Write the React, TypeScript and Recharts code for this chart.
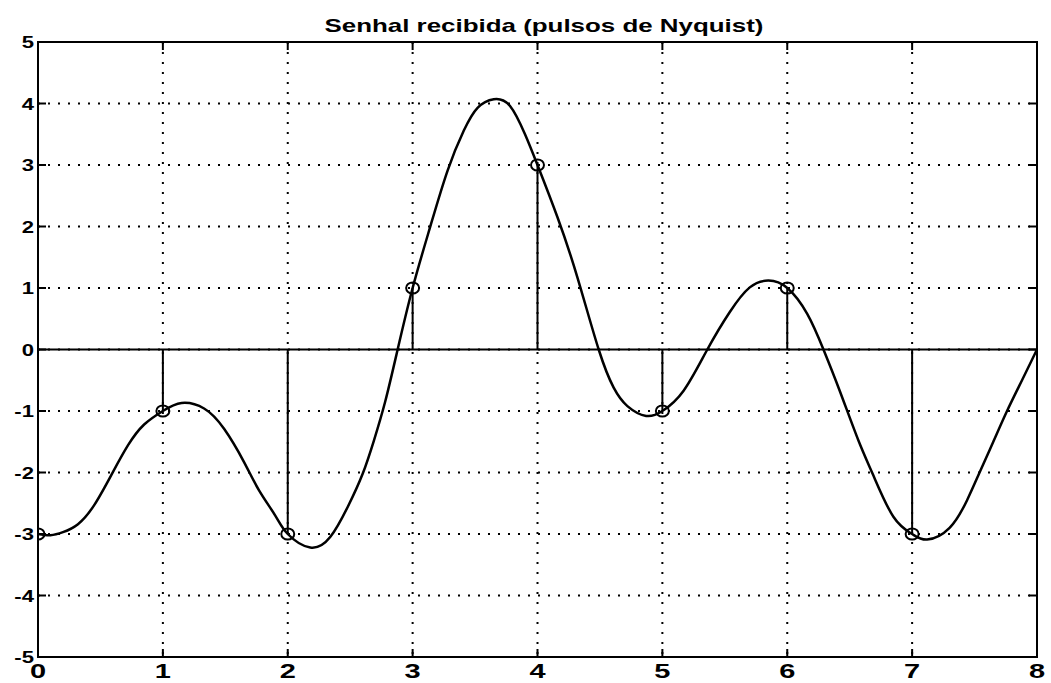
import {
  ComposedChart,
  Line,
  Scatter,
  XAxis,
  YAxis,
  CartesianGrid,
  ReferenceLine,
  ReferenceArea,
} from "recharts";

// sample instants and received symbol values
const sampleX = [0, 1, 2, 3, 4, 5, 6, 7];
const sampleY = [-3, -1, -3, 1, 3, -1, 1, -3];

// received signal (sum of Nyquist pulses)
const curveX = [
  0, 0.1, 0.2, 0.32, 0.45, 0.59, 0.72, 0.85, 1, 1.15, 1.33, 1.49, 1.65, 1.77,
  1.9, 2, 2.18, 2.34, 2.48, 2.6, 2.69, 2.78, 2.88, 3, 3.14, 3.28, 3.41, 3.52,
  3.65, 3.78, 3.9, 4, 4.16, 4.32, 4.49, 4.61, 4.72, 4.87, 5, 5.17, 5.36,
  5.54, 5.7, 5.85, 6, 6.16, 6.29, 6.42, 6.57, 6.69, 6.85, 7, 7.12, 7.3, 7.44,
  7.54, 7.65, 7.76, 7.88, 8,
];
const curveY = [
  -3, -3.02, -2.97, -2.84, -2.53, -2.03, -1.56, -1.22, -1, -0.87, -0.96,
  -1.29, -1.83, -2.29, -2.7, -3, -3.22, -3.05, -2.56, -2.02, -1.48, -0.85, 0,
  1, 1.99, 2.91, 3.56, 3.93, 4.07, 3.96, 3.5, 3, 2.15, 1.17, 0, -0.62, -0.92,
  -1.08, -1, -0.67, 0, 0.61, 1.01, 1.12, 1, 0.58, 0, -0.67, -1.48, -2.05,
  -2.72, -3, -3.09, -2.9, -2.45, -2.0, -1.5, -1.0, -0.5, 0,
];

const xTicks = [0, 1, 2, 3, 4, 5, 6, 7, 8];
const yTicks = [-5, -4, -3, -2, -1, 0, 1, 2, 3, 4, 5];

const W = 1051;
const H = 683;
const PLOT_LEFT = 38;
const PLOT_RIGHT = 1037;
const PLOT_TOP = 42;
const PLOT_BOTTOM = 657;
const TICK_LEN = 8;
const FONT = "'Liberation Sans', Arial, sans-serif";

const curve = curveX.map((x, i) => ({ x, y: curveY[i] }));
const samples = sampleX.map((x, i) => ({ x, y: sampleY[i] }));

const YTick = (props: any) => {
  const { y, payload } = props;
  return (
    <g>
      <text
        transform={`translate(${PLOT_LEFT - 4} ${y + 6}) scale(1.3 1)`}
        textAnchor="end"
        fontFamily={FONT}
        fontWeight="bold"
        fontSize={17}
        fill="#000"
      >
        {payload.value}
      </text>
      <line x1={PLOT_LEFT} x2={PLOT_LEFT + TICK_LEN} y1={y} y2={y} stroke="#000" strokeWidth={2} />
      <line x1={PLOT_RIGHT} x2={PLOT_RIGHT - TICK_LEN} y1={y} y2={y} stroke="#000" strokeWidth={2} />
    </g>
  );
};

const XTick = (props: any) => {
  const { x, payload } = props;
  return (
    <g>
      <text
        transform={`translate(${x} ${PLOT_BOTTOM + 21}) scale(1.45 1)`}
        textAnchor="middle"
        fontFamily={FONT}
        fontWeight="bold"
        fontSize={20}
        fill="#000"
      >
        {payload.value}
      </text>
      <line x1={x} x2={x} y1={PLOT_BOTTOM} y2={PLOT_BOTTOM - TICK_LEN} stroke="#000" strokeWidth={2} />
      <line x1={x} x2={x} y1={PLOT_TOP} y2={PLOT_TOP + TICK_LEN} stroke="#000" strokeWidth={2} />
    </g>
  );
};

const Ring = (props: any) => (
  <ellipse cx={props.cx} cy={props.cy} rx={6.5} ry={5.5} fill="none" stroke="#000" strokeWidth={2} />
);

export default function App() {
  return (
    <div style={{ position: "absolute", left: 0, top: 0, width: W, height: H, background: "#fff" }}>
      <div
        style={{
          position: "absolute",
          left: 0,
          width: 1088,
          top: 15,
          textAlign: "center",
          fontFamily: FONT,
          fontWeight: "bold",
          fontSize: 18.5,
          lineHeight: "22px",
          color: "#000",
          transform: "scaleX(1.4)",
          transformOrigin: "544px 0",
        }}
      >
        Senhal recibida (pulsos de Nyquist)
      </div>
      <ComposedChart
        width={W}
        height={H}
        margin={{ top: PLOT_TOP, right: W - PLOT_RIGHT, bottom: 0, left: 0 }}
      >
        <CartesianGrid stroke="#000" strokeWidth={2} strokeDasharray="2 8" />
        <XAxis
          dataKey="x"
          type="number"
          domain={[0, 8]}
          ticks={xTicks}
          allowDataOverflow
          height={H - PLOT_BOTTOM}
          axisLine={false}
          tickLine={false}
          tick={<XTick />}
        />
        <YAxis
          type="number"
          domain={[-5, 5]}
          ticks={yTicks}
          allowDataOverflow
          width={PLOT_LEFT}
          axisLine={false}
          tickLine={false}
          tick={<YTick />}
        />
        <ReferenceArea x1={0} x2={8} y1={-5} y2={5} fill="none" stroke="#000" strokeWidth={2} />
        <ReferenceLine y={0} stroke="#000" strokeWidth={2} />
        {samples.map((s) => (
          <ReferenceLine
            key={`stem-${s.x}`}
            segment={[
              { x: s.x, y: 0 },
              { x: s.x, y: s.y },
            ]}
            stroke="#000"
            strokeWidth={2}
          />
        ))}
        <Line
          data={curve}
          dataKey="y"
          type="natural"
          stroke="#000"
          strokeWidth={2.5}
          dot={false}
          isAnimationActive={false}
        />
        <Scatter data={samples} dataKey="y" shape={<Ring />} isAnimationActive={false} />
      </ComposedChart>
    </div>
  );
}
